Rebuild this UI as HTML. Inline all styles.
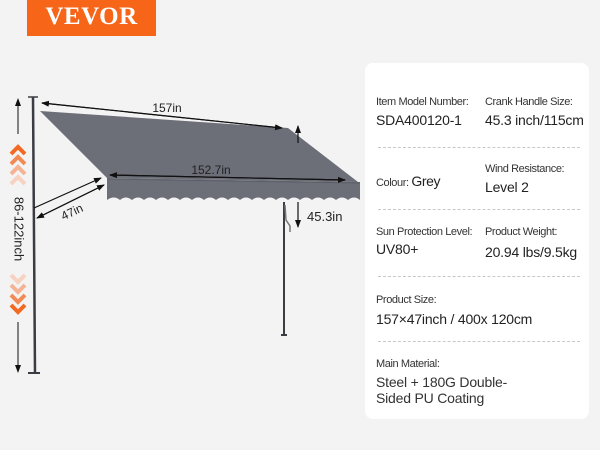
<!DOCTYPE html>
<html><head><meta charset="utf-8">
<style>
html,body{margin:0;padding:0;}
body{width:600px;height:450px;background:#f3f3f3;position:relative;overflow:hidden;font-family:"Liberation Sans",Arial,sans-serif;}
.logo{position:absolute;left:27px;top:0;width:129px;height:36px;background:#f76519;color:#fff;font-family:"Liberation Serif",serif;font-weight:bold;font-size:25px;text-align:center;line-height:34px;letter-spacing:0.5px;}
.panel{position:absolute;left:365px;top:63px;width:224px;height:356px;background:#fff;border-radius:8px;}
.lab{position:absolute;font-size:11px;color:#333;letter-spacing:-0.4px;}
.val{position:absolute;font-size:14px;color:#222;letter-spacing:-0.2px;}
.sep{position:absolute;left:13px;width:202px;border-top:1px dashed #c8c8c8;}
</style></head><body>
<div class="logo">VEVOR</div>
<svg width="365" height="450" style="position:absolute;left:0;top:0" xmlns="http://www.w3.org/2000/svg">
<defs>
<marker id="ah" markerWidth="8" markerHeight="8" refX="7" refY="4" orient="auto" markerUnits="userSpaceOnUse"><path d="M0,1 L8,4 L0,7 Z" fill="#111"/></marker>
</defs>
<!-- canopy -->
<polygon points="40,111 288,128 358,182 107,178" fill="#6c6e78"/>
<path d="M107,178 L360,182 L360,200 q-6,-5 -12,0 q-6,-5 -12,0 q-6,-5 -12,0 q-6,-5 -12,0 q-6,-5 -12,0 q-6,-5 -12,0 q-6,-5 -12,0 q-6,-5 -12,0 q-6,-5 -12,0 q-6,-5 -12,0 q-6,-5 -12,0 q-6,-5 -12,0 q-6,-5 -12,0 q-6,-5 -12,0 q-6,-5 -12,0 q-6,-5 -12,0 q-6,-5 -12,0 q-6,-5 -12,0 q-6,-5 -12,0 q-6,-5 -12,0 q-6,-5 -13,0 Z" fill="#6c6e78"/>
<line x1="107" y1="179" x2="360" y2="183" stroke="#5c5e66" stroke-width="1"/>
<!-- poles -->
<line x1="33" y1="97" x2="35" y2="373" stroke="#3a3c44" stroke-width="2.5"/>
<line x1="28" y1="97" x2="38" y2="97" stroke="#3a3c44" stroke-width="1.5"/>
<line x1="28" y1="373" x2="40" y2="373" stroke="#3a3c44" stroke-width="2"/>
<line x1="284" y1="202" x2="284" y2="335" stroke="#3a3c44" stroke-width="2"/>
<line x1="281" y1="335" x2="287" y2="335" stroke="#3a3c44" stroke-width="2"/>
<path d="M285,205 L286,220 L290,226 L290,232" stroke="#777" stroke-width="1.5" fill="none"/>
<!-- dimension arrows -->
<line x1="18" y1="100" x2="18" y2="135" stroke="#111" stroke-width="1" marker-end="url(#ah)" transform="rotate(180 18 117)"/>
<line x1="18" y1="322" x2="18" y2="372" stroke="#111" stroke-width="1" marker-end="url(#ah)"/>
<line x1="282" y1="128" x2="42" y2="103" stroke="#111" stroke-width="1.2" marker-end="url(#ah)"/>
<line x1="42" y1="103" x2="282" y2="128" stroke="#111" stroke-width="1.2" marker-end="url(#ah)"/>
<text x="167" y="112" font-size="12" fill="#222" text-anchor="middle">157in</text>
<line x1="345" y1="180" x2="110" y2="175" stroke="#111" stroke-width="1.2" marker-end="url(#ah)"/>
<line x1="110" y1="175" x2="345" y2="180" stroke="#111" stroke-width="1.2" marker-end="url(#ah)"/>
<text x="211" y="174" font-size="12" fill="#222" text-anchor="middle">152.7in</text>
<line x1="34" y1="208" x2="101" y2="178" stroke="#111" stroke-width="1.2" marker-end="url(#ah)"/>
<line x1="104" y1="185" x2="37" y2="218" stroke="#111" stroke-width="1.2" marker-end="url(#ah)"/>
<line x1="37" y1="218" x2="104" y2="185" stroke="#111" stroke-width="1.2" marker-end="url(#ah)"/>
<text x="72" y="216" font-size="12" fill="#222" text-anchor="middle" transform="rotate(-25 72 212)">47in</text>
<line x1="298" y1="143" x2="298" y2="126" stroke="#111" stroke-width="1.2" marker-end="url(#ah)"/>
<line x1="298" y1="202" x2="298" y2="227" stroke="#111" stroke-width="1.2" marker-end="url(#ah)"/>
<text x="307" y="221" font-size="13" fill="#222">45.3in</text>
<text x="18" y="229" font-size="13" fill="#222" text-anchor="middle" transform="rotate(90 18 229)" dominant-baseline="middle">86-122inch</text>
<!-- chevrons up -->
<g fill="none" stroke-width="4" stroke-linejoin="miter">
<polyline points="11,154 18,147 25,154" stroke="#f26a22"/>
<polyline points="11,164 18,157 25,164" stroke="#f28a55"/>
<polyline points="11,174 18,167 25,174" stroke="#f5b394"/>
<polyline points="11,184 18,177 25,184" stroke="#f8d2c0"/>
<polyline points="11,275 18,282 25,275" stroke="#f8d2c0"/>
<polyline points="11,285 18,292 25,285" stroke="#f5b394"/>
<polyline points="11,295 18,302 25,295" stroke="#f28a55"/>
<polyline points="11,305 18,312 25,305" stroke="#f26a22"/>
</g>
</svg>
<div class="panel">
<div class="lab" style="left:11px;top:33px">Item Model Number:</div>
<div class="val" style="left:11px;top:49px">SDA400120-1</div>
<div class="lab" style="left:120px;top:33px">Crank Handle Size:</div>
<div class="val" style="left:120px;top:49px">45.3 inch/115cm</div>
<div class="sep" style="top:84px"></div>
<div class="lab" style="left:11px;top:110px">Colour: <span style="font-size:14px;color:#222">Grey</span></div>
<div class="lab" style="left:120px;top:100px">Wind Resistance:</div>
<div class="val" style="left:120px;top:116px">Level 2</div>
<div class="sep" style="top:146px"></div>
<div class="lab" style="left:11px;top:163px">Sun Protection Level:</div>
<div class="val" style="left:11px;top:178px">UV80+</div>
<div class="lab" style="left:120px;top:163px">Product Weight:</div>
<div class="val" style="left:120px;top:181px">20.94 lbs/9.5kg</div>
<div class="sep" style="top:213px"></div>
<div class="lab" style="left:11px;top:231px">Product Size:</div>
<div class="val" style="left:11px;top:248px">157×47inch / 400x 120cm</div>
<div class="sep" style="top:278px"></div>
<div class="lab" style="left:11px;top:295px">Main Material:</div>
<div class="val" style="left:11px;top:311px;line-height:16px;font-weight:bold;color:#333;font-weight:normal">Steel + 180G Double-<br>Sided PU Coating</div>
</div>
</body></html>
